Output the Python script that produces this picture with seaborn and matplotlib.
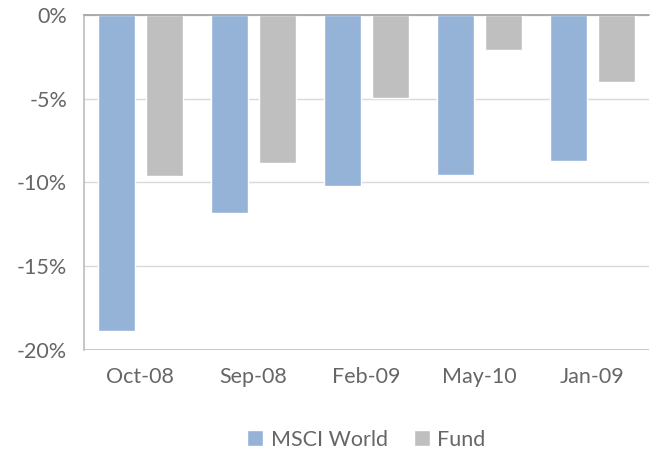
import pandas as pd
import matplotlib
matplotlib.use("Agg")
import matplotlib.pyplot as plt
import seaborn as sns

# data
months = ['Oct-08', 'Sep-08', 'Feb-09', 'May-10', 'Jan-09']
msci_world = [-18.9, -11.8, -10.2, -9.55, -8.7]
fund = [-9.6, -8.85, -4.95, -2.1, -4.0]
yticks = [0, -5, -10, -15, -20]
series_names = ['MSCI World', 'Fund']
colours = ['#95B3D7', '#BFBFBF']

df = pd.DataFrame({
    'month': months * 2,
    'value': msci_world + fund,
    'series': [series_names[0]] * len(months) + [series_names[1]] * len(months),
})

sns.set_theme(style='white')
plt.rcParams['font.family'] = ['Lato', 'DejaVu Sans']
text_col = '#666666'
fs = 15.5

fig = plt.figure(figsize=(6.5, 4.55), dpi=100)
ax = fig.add_axes([0.129, 0.231, 0.869, 0.736])

sns.barplot(data=df, x='month', y='value', hue='series', order=months,
            hue_order=series_names, palette=colours, width=0.85, gap=0.23,
            saturation=1, ax=ax, zorder=3)

ax.set_ylim(-20, 0)
ax.set_yticks(yticks)
ax.set_yticklabels([f'{t}%' for t in yticks])
ax.set_xlim(-0.5, len(months) - 0.5)
ax.set_xlabel('')
ax.set_ylabel('')
ax.yaxis.grid(True, color='#D9D9D9', linewidth=1, zorder=0)
ax.set_axisbelow(True)

for s in ['right', 'bottom', 'top']:
    ax.spines[s].set_visible(False)
ax.spines['left'].set_color('#BFBFBF')
ax.axhline(0, color='#A6A6A6', linewidth=1.3, zorder=5, clip_on=False)
ax.axhline(-20, color='#BFBFBF', linewidth=1.2, zorder=1)

ax.tick_params(axis='both', length=0, labelsize=fs, labelcolor=text_col)
ax.tick_params(axis='y', pad=12)
ax.tick_params(axis='x', pad=12)

handles, labels = ax.get_legend_handles_labels()
ax.legend(handles, labels, loc='upper center', bbox_to_anchor=(0.5, -0.18),
          ncol=2, frameon=False, fontsize=fs, labelcolor=text_col,
          handlelength=0.75, handleheight=0.75, handletextpad=0.35,
          columnspacing=1.2)

fig.savefig('out.png', dpi=100)
